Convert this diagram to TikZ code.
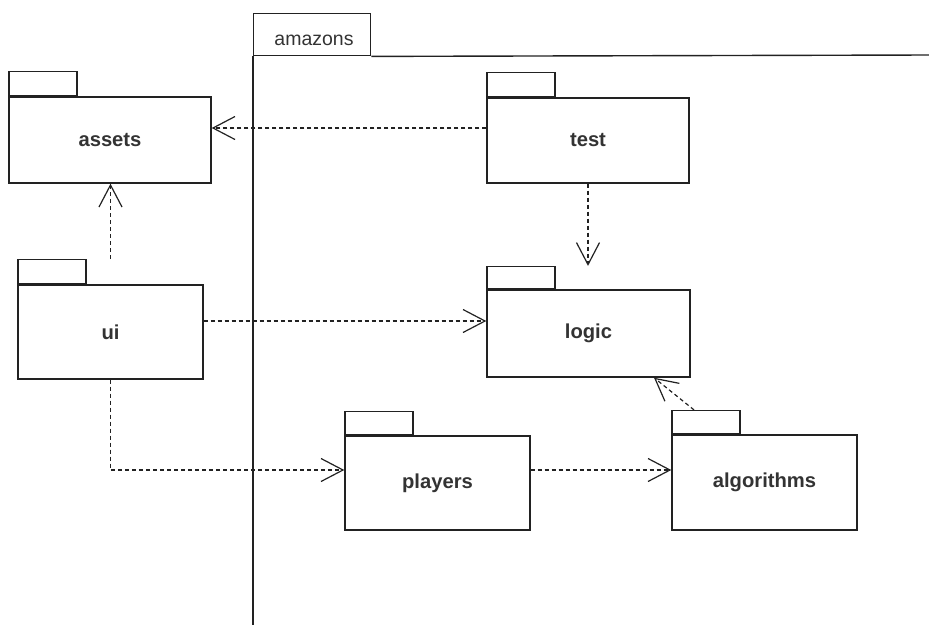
\documentclass[tikz,border=0pt]{standalone}
\usepackage{fontspec}
\setmainfont{Liberation Sans}
\usetikzlibrary{arrows.meta,calc}
\definecolor{edge}{HTML}{222222}
\definecolor{ink}{HTML}{333333}
\begin{document}
\begin{tikzpicture}[x=1pt,y=-1pt,
  pkg/.style={draw=edge,line width=1.4pt,fill=white,inner sep=0pt,
    font=\fontsize{20.2}{23}\selectfont\bfseries,text=ink},
  tabbox/.style={draw=edge,line width=1.4pt,fill=white,inner sep=0pt,
    minimum width=68pt,minimum height=#1,anchor=south west},
  tabbox/.default=24pt,
  dep/.style={draw=edge,line width=1.2pt,dash pattern=on 4pt off 3pt,
    -{Straight Barb[length=22pt,width=23pt,line width=1.2pt]}}]
\useasboundingbox (0,0) rectangle (929,625);

% enclosing package "amazons"
\node[draw=edge,line width=1.4pt,inner sep=0pt,minimum width=117pt,
  minimum height=42pt,anchor=north west] (amzTab) at (253,13) {};
\node[font=\fontsize{19.5}{22}\selectfont,text=ink] (amzName) at (314,40) {amazons};
\draw[edge,line width=1.4pt] (amzTab.south east) -- (929,55);
\draw[edge,line width=1.4pt] (amzTab.south west) -- (253,625);

% packages
\node[pkg,minimum width=202pt,minimum height=86pt] (assets) at (110,140) {assets};
\node[tabbox] (assetsTab) at (assets.north west) {};

\node[pkg,minimum width=202pt,minimum height=85pt] (test) at (588,140.5) {test};
\node[tabbox] (testTab) at (test.north west) {};

\node[pkg,minimum width=185pt,minimum height=94pt] (ui) at (110.5,332) {ui};
\node[tabbox] (uiTab) at (ui.north west) {};

\node[pkg,minimum width=203pt,minimum height=87pt] (logic) at (588.5,333.5) {logic};
\node[tabbox=22pt] (logicTab) at (logic.north west) {};

\node[pkg,minimum width=185pt,minimum height=94pt] (players) at (437.5,483) {players};
\node[tabbox=23pt] (playersTab) at (players.north west) {};

\node[pkg,minimum width=185pt,minimum height=95pt] (algorithms) at (764.5,482.5) {algorithms};
\node[tabbox=23pt] (algTab) at (algorithms.north west) {};

% dependencies
\draw[dep] ([yshift=12.5pt]test.west) -- ([yshift=12pt]assets.east);
\draw[dep] (test.south) -- (test.south |- logicTab.north);
\draw[dep] (ui.north |- uiTab.north) -- (ui.north |- assets.south);
\draw[dep] ([yshift=11pt]ui.east) -- ([yshift=12.5pt]logic.west);
\draw[dep] (ui.south) |- ([yshift=13pt]players.west);
\draw[dep] ([yshift=13pt]players.east) -- ([yshift=12.5pt]algorithms.west);
\draw[dep] ([xshift=-12pt]algTab.north) -- ([xshift=65.5pt]logic.south);
\end{tikzpicture}
\end{document}
